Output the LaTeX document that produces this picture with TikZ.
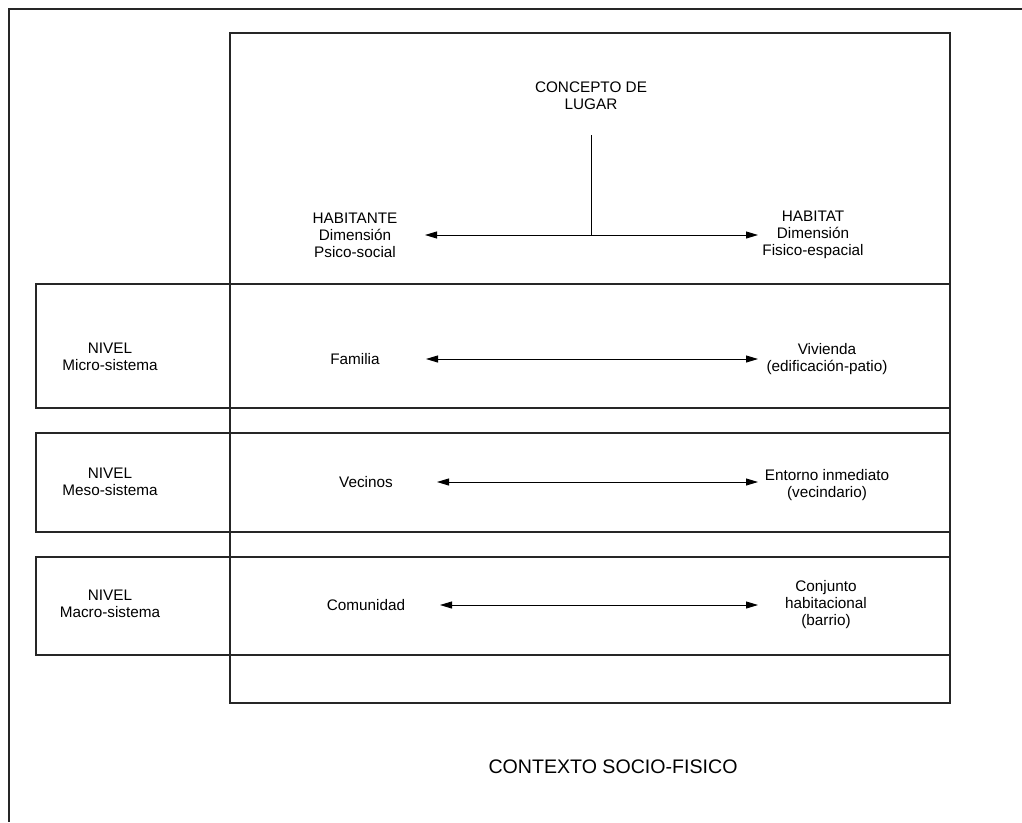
\documentclass[tikz,border=0pt]{standalone}
\usepackage{fontspec}
\setmainfont{Liberation Sans}
\usetikzlibrary{arrows.meta}
\begin{document}
\begin{tikzpicture}[x=1pt,y=-1pt,
  frame/.style={draw=black!85, line width=1.2pt},
  lbl/.style={align=center, font=\fontsize{15.3}{17}\selectfont, inner sep=0pt},
  big/.style={align=center, font=\fontsize{19.6}{22}\selectfont, inner sep=0pt},
  link/.style={draw, line width=0.9pt, {Triangle[length=12pt,width=7pt]}-{Triangle[length=12pt,width=7pt]}},
  stem/.style={draw, line width=0.9pt},
]
\useasboundingbox (0,0) rectangle (1022,822);
% outer frame (only top and left edges lie inside the picture)
\coordinate (ftl) at (9,9);
\coordinate (ftr) at (1022,9);
\coordinate (fbl) at (9,822);
\draw[frame] (ftr) -- (ftl) -- (fbl);
% main box
\draw[frame] (230,33) rectangle (950,703);
% level rows
\draw[frame] (36,284) rectangle (950,408);
\draw[frame] (36,433) rectangle (950,532);
\draw[frame] (36,557) rectangle (950,655);

% top
\node[lbl] (concepto) at (591,96) {CONCEPTO DE\\LUGAR};
\node[lbl] (habitante) at (355,235) {HABITANTE\\Dimensión\\Psico-social};
\node[lbl] (habitat) at (813,235) {HABITAT\\Dimensión\\Fisico-espacial};
\coordinate (s0) at (591,135);
\coordinate (s1) at (591,235);
\coordinate (a0l) at (425,235);
\coordinate (a0r) at (758,235);
\draw[link] (a0l) -- (a0r);
\draw[stem] (s0) -- (s1);

% micro
\node[lbl] (nmicro) at (110,357) {NIVEL\\Micro-sistema};
\node[lbl] (familia) at (355,359) {Familia};
\node[lbl] (vivienda) at (827,359) {Vivienda\\(edificación-patio)};
\coordinate (a1l) at (426,359);
\coordinate (a1r) at (758,359);
\draw[link] (a1l) -- (a1r);

% meso
\node[lbl] (nmeso) at (110,482) {NIVEL\\Meso-sistema};
\node[lbl] (vecinos) at (366,482) {Vecinos};
\node[lbl] (entorno) at (827,485) {Entorno inmediato\\(vecindario)};
\coordinate (a2l) at (437,482);
\coordinate (a2r) at (758,482);
\draw[link] (a2l) -- (a2r);

% macro
\node[lbl] (nmacro) at (110,604) {NIVEL\\Macro-sistema};
\node[lbl] (comunidad) at (366,605) {Comunidad};
\node[lbl] (conjunto) at (826,605) {Conjunto\\habitacional\\(barrio)};
\coordinate (a3l) at (440,605);
\coordinate (a3r) at (758,605);
\draw[link] (a3l) -- (a3r);

% context
\node[big] (contexto) at (613,767) {CONTEXTO SOCIO-FISICO};
\end{tikzpicture}
\end{document}
